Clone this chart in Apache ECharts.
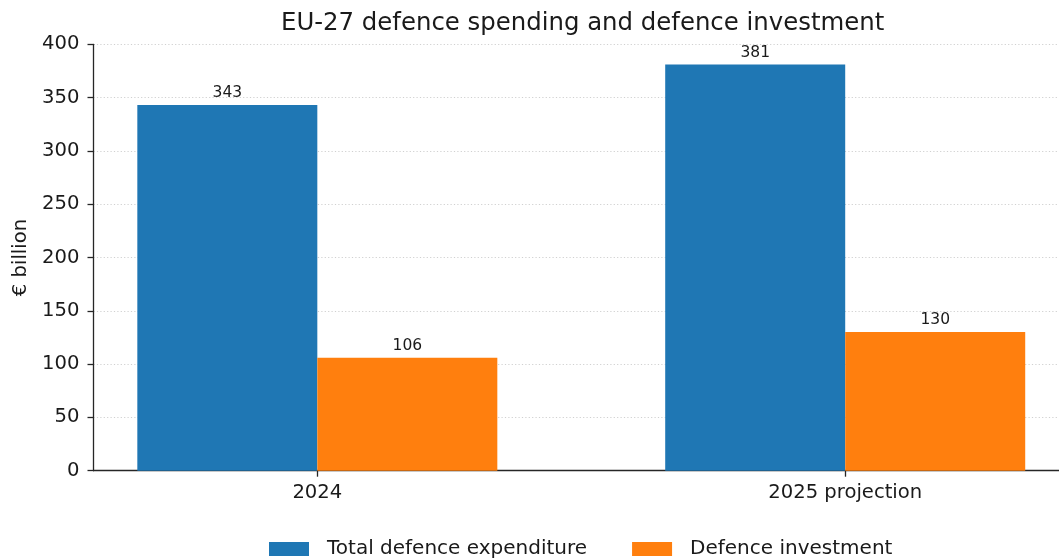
<!DOCTYPE html>
<html>
<head>
<meta charset="utf-8">
<script src="https://cdn.jsdelivr.net/npm/echarts@6/dist/echarts.min.js"></script>
<style>html,body{margin:0;padding:0;background:#fff;}#c{width:1059px;height:560px;}</style>
</head>
<body>
<div id="c"></div>
<script>
const categories = ['2024', '2025 projection'];
const totalExpenditure = [343, 381];
const defenceInvestment = [106, 130];
const yTicks = [0, 50, 100, 150, 200, 250, 300, 350, 400];

const FONT = 'DejaVu Sans';
const chart = echarts.init(document.getElementById('c'), null, {renderer: 'canvas'});
const pos = categories.map((_, i) => i);

chart.setOption({
  animation: false,
  backgroundColor: '#ffffff',
  textStyle: {fontFamily: FONT},
  title: {
    text: 'EU-27 defence spending and defence investment',
    left: 276, top: 7,
    textStyle: {fontFamily: FONT, fontSize: 24.4, fontWeight: 'normal', color: '#1a1a1a'}
  },
  legend: {
    left: 264, top: 534,
    itemWidth: 40, itemHeight: 14, itemGap: 45,
    icon: 'rect',
    textStyle: {fontFamily: FONT, fontSize: 20, color: '#1a1a1a', padding: [0, 0, 0, 13]},
    data: ['Total defence expenditure', 'Defence investment']
  },
  grid: {left: 93.5, right: 0, top: 44.3, bottom: 89.3, containLabel: false, outerBoundsMode: 'none'},
  xAxis: {
    type: 'value', min: -0.424, max: 1.405,
    splitLine: {show: false},
    axisLine: {show: true, onZero: false, lineStyle: {color: '#262626', width: 1.3}},
    axisTick: {show: true, length: 6, customValues: pos, lineStyle: {color: '#262626', width: 1.3}},
    axisLabel: {
      customValues: pos, margin: 12,
      fontFamily: FONT, fontSize: 19.6, color: '#1a1a1a',
      formatter: v => categories[Math.round(v)] || ''
    }
  },
  yAxis: {
    type: 'value', min: 0, max: 400, interval: 50,
    name: '€ billion', nameLocation: 'middle', nameGap: 62, nameRotate: 90,
    nameTextStyle: {fontFamily: FONT, fontSize: 19.6, color: '#1a1a1a'},
    axisLine: {show: true, onZero: false, lineStyle: {color: '#262626', width: 1.3}},
    axisTick: {show: true, length: 6, lineStyle: {color: '#262626', width: 1.3}},
    axisLabel: {
      margin: 14, fontFamily: FONT, fontSize: 19.6, color: '#1a1a1a',
      customValues: yTicks
    },
    splitLine: {show: true, lineStyle: {color: '#c4c4c4', type: [1.2, 2.2], width: 0.8}}
  },
  series: [
    {
      name: 'Total defence expenditure', type: 'bar',
      data: pos.map((p, i) => [p, totalExpenditure[i]]),
      barWidth: 180, barGap: '0%',
      itemStyle: {color: '#1f77b4'},
      label: {show: true, position: 'top', distance: 4, fontFamily: FONT, fontSize: 15.5, color: '#1a1a1a'}
    },
    {
      name: 'Defence investment', type: 'bar',
      data: pos.map((p, i) => [p, defenceInvestment[i]]),
      barWidth: 180, barGap: '0%',
      itemStyle: {color: '#ff7f0e'},
      label: {show: true, position: 'top', distance: 4, fontFamily: FONT, fontSize: 15.5, color: '#1a1a1a'}
    }
  ]
});
</script>
</body>
</html>
